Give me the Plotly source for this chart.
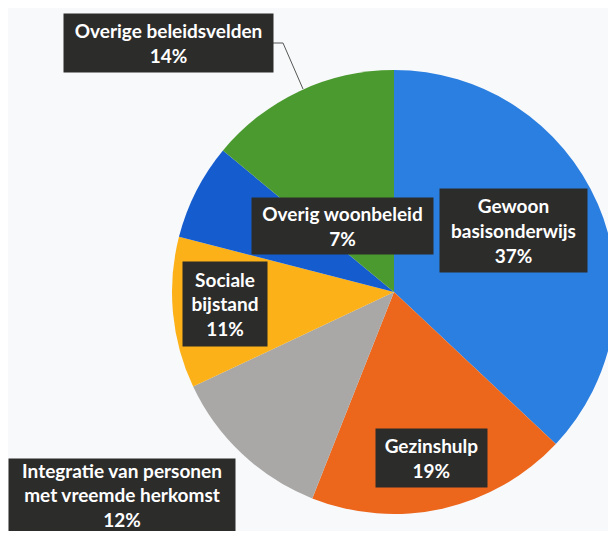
import plotly.graph_objects as go

# the page has an 8px body margin; size the figure so the page stays 616x539
OFF = 8
W, H = 616 - OFF, 539 - 2 * OFF

labels = [
    "Gewoon basisonderwijs",
    "Gezinshulp",
    "Integratie van personen met vreemde herkomst",
    "Sociale bijstand",
    "Overig woonbeleid",
    "Overige beleidsvelden",
]
box_text = [
    "Gewoon<br>basisonderwijs",
    "Gezinshulp",
    "Integratie van personen<br>met vreemde herkomst",
    "Sociale<br>bijstand",
    "Overig woonbeleid",
    "Overige beleidsvelden",
]
values = [37, 19, 12, 11, 7, 14]
colors = ["#2b7fe0", "#ec661c", "#a9a8a6", "#fbb117", "#155ccf", "#4b9a2f"]

# label boxes: centre x, centre y, width, height (screen pixels from top-left)
boxes = [
    (513, 230, 147, 83),
    (432, 458, 111, 58),
    (122, 495, 226, 72),
    (225, 304, 84, 84),
    (342, 226, 181, 56),
    (168, 43, 209, 58),
]


def px(x):
    return (x - OFF) / W


def py(y):
    return 1 - (y - OFF) / H


fig = go.Figure()

fig.add_trace(
    go.Pie(
        labels=labels,
        values=values,
        sort=False,
        direction="clockwise",
        rotation=0,
        textinfo="none",
        marker=dict(colors=colors, line=dict(width=0)),
        domain=dict(x=[px(172), 1], y=[py(516), py(68)]),
        showlegend=False,
    )
)

for txt, v, (cx, cy, bw, bh) in zip(box_text, values, boxes):
    fig.add_annotation(
        x=px(cx),
        y=py(cy),
        xref="paper",
        yref="paper",
        xanchor="center",
        yanchor="middle",
        text=f"{txt}<br>{v}%",
        showarrow=False,
        width=bw,
        height=bh,
        align="center",
        valign="middle",
        bgcolor="#2c2c2b",
        borderpad=0,
        font=dict(family="Lato", size=19, color="white", weight="bold"),
    )

# leader line for the outside label
fig.add_shape(
    type="path",
    xref="paper",
    yref="paper",
    path=f"M {px(273)} {py(43)} L {px(283)} {py(43)} L {px(303)} {py(89)}",
    line=dict(color="#555555", width=1),
)

fig.update_layout(
    width=W,
    height=H,
    margin=dict(l=0, r=0, t=0, b=0),
    paper_bgcolor="#f8f9fa",
    plot_bgcolor="#f8f9fa",
)

fig.write_html("out.html")
